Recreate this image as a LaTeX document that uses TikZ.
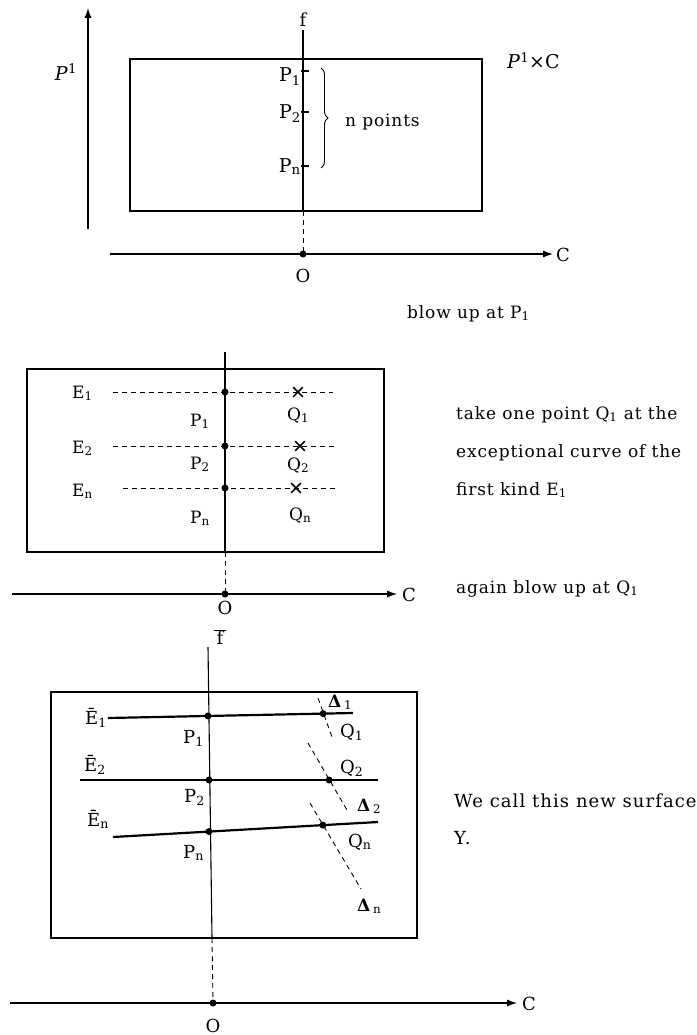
\documentclass[tikz,border=0pt]{standalone}
\usepackage{fontspec}
\setmainfont{DejaVu Serif}
\newfontfamily\spfont[LetterSpace=5]{DejaVu Serif}
\newfontfamily\spwfont[LetterSpace=6]{DejaVu Serif}
\usetikzlibrary{arrows.meta,calc,shapes.misc,decorations.pathreplacing}
\begin{document}
\begin{tikzpicture}[x=1pt,y=-1pt,
  ln/.style={line width=1.1pt},
  thk/.style={line width=2.2pt},
  dsh/.style={line width=0.9pt,dash pattern=on 5pt off 4pt},
  axisline/.style={line width=1.1pt,-{Latex[length=10pt,width=7pt]}},
  pdot/.style={circle,fill=black,inner sep=0pt,minimum size=7pt},
  xmark/.style={cross out,draw=black,line width=1.6pt,inner sep=0pt,minimum size=8pt},
  lab/.style={inner sep=0pt,anchor=base west,font=\fontsize{18}{20}\selectfont},
  labt/.style={inner sep=0pt,anchor=base east,font=\fontsize{19}{20}\selectfont},
  labm/.style={inner sep=0pt,anchor=base west,font=\fontsize{17}{18}\selectfont},
  txt/.style={inner sep=0pt,anchor=base west,font=\spfont\fontsize{17}{20}\selectfont},
  txtw/.style={inner sep=0pt,anchor=base west,font=\spwfont\fontsize{18}{20}\selectfont},
  dlab/.style={inner sep=0pt,anchor=base west,font=\bfseries\fontsize{17}{20}\selectfont},
  single/.style={inner sep=0pt,font=\fontsize{18}{20}\selectfont},
]
\useasboundingbox (0,0) rectangle (696,1035);

% ================= top panel =================
\coordinate (pa0) at (88,229);
\coordinate (pa1) at (88,8);
\draw[axisline] (pa0) -- (pa1);
\node[single,font=\fontsize{19}{20}\selectfont] (plab) at (66,72) {\textit{P}\textsuperscript{1}};

\coordinate (r1a) at (130,59);
\coordinate (r1b) at (482,211);
\draw[ln] (r1a) rectangle (r1b);

\coordinate (ftop) at (303,30);
\coordinate (fbot) at (303,211);
\coordinate (O1) at (303,254);
\draw[ln] (ftop) -- (fbot);
\draw[dsh] (fbot) -- (O1);
\node[single] (flab) at (303,20) {f};

\coordinate (t1a) at (301,71);  \coordinate (t1b) at (309,71);
\coordinate (t2a) at (301,112); \coordinate (t2b) at (309,112);
\coordinate (t3a) at (301,166); \coordinate (t3b) at (309,166);
\draw[line width=2.6pt] (t1a) -- (t1b);
\draw[line width=2.6pt] (t2a) -- (t2b);
\draw[line width=2.6pt] (t3a) -- (t3b);
\node[labt] (tp1) at (301,82) {P\textsubscript{1}};
\node[labt] (tp2) at (301,119) {P\textsubscript{2}};
\node[labt] (tpn) at (301,172) {P\textsubscript{n}};

\coordinate (bra) at (321,68);
\coordinate (brb) at (321,168);
\draw[line width=0.9pt,decorate,decoration={brace,amplitude=7pt}] (bra) -- (brb);
\node[txt] (npts) at (345,127) {n points};

\node[inner sep=0pt,anchor=base west,font=\fontsize{19}{20}\selectfont] (pxc) at (507,69) {\textit{P}\textsuperscript{1}×C};

\coordinate (c1s) at (110,254);
\coordinate (c1e) at (553,254);
\draw[axisline] (c1s) -- (c1e);
\node[pdot] (o1dot) at (O1) {};
\node[single,anchor=west] (c1lab) at (556,255) {C};
\node[single] (o1lab) at (303,276) {O};

\node[txt] (blow1) at (407,318) {blow up at P\textsubscript{1}};

% ================= middle panel =================
\coordinate (r2a) at (27,369);
\coordinate (r2b) at (384,552);
\draw[ln] (r2a) rectangle (r2b);

\coordinate (mtop) at (225,352);
\coordinate (mbot) at (225,552);
\coordinate (O2) at (225,594);
\draw[ln] (mtop) -- (mbot);
\draw[dsh] (mbot) -- (O2);

\coordinate (e1a) at (113,392); \coordinate (e1b) at (333,392);
\coordinate (e2a) at (113,446); \coordinate (e2b) at (334,446);
\coordinate (e3a) at (123,488); \coordinate (e3b) at (337,488);
\draw[dsh] (e1a) -- (e1b);
\draw[dsh] (e2a) -- (e2b);
\draw[dsh] (e3a) -- (e3b);
\node[pdot] (mp1) at (225,392) {};
\node[pdot] (mp2) at (225,446) {};
\node[pdot] (mp3) at (225,488) {};
\node[xmark] (mq1) at (298,392) {};
\node[xmark] (mq2) at (300,446) {};
\node[xmark] (mq3) at (296,488) {};

\node[labm] (me1) at (72,398) {E\textsubscript{1}};
\node[labm] (me2) at (72,453) {E\textsubscript{2}};
\node[labm] (me3) at (72,496) {E\textsubscript{n}};
\node[labm] (mpl1) at (190,426) {P\textsubscript{1}};
\node[labm] (mpl2) at (190,469) {P\textsubscript{2}};
\node[labm] (mpl3) at (190,523) {P\textsubscript{n}};
\node[labm] (mql1) at (287,420) {Q\textsubscript{1}};
\node[labm] (mql2) at (287,470) {Q\textsubscript{2}};
\node[labm] (mql3) at (289,520) {Q\textsubscript{n}};

\coordinate (c2s) at (12,594);
\coordinate (c2e) at (397,594);
\draw[axisline] (c2s) -- (c2e);
\node[pdot] (o2dot) at (O2) {};
\node[single,anchor=west] (c2lab) at (402,595) {C};
\node[single] (o2lab) at (225,608) {O};

\node[txt] (tx1) at (456,419) {take one point Q\textsubscript{1} at the};
\node[txt] (tx2) at (456,457) {exceptional curve of the};
\node[txt] (tx3) at (456,495) {first kind E\textsubscript{1}};
\node[txt] (tx4) at (456,593) {again blow up at Q\textsubscript{1}};

% ================= bottom panel =================
\coordinate (r3a) at (51,692);
\coordinate (r3b) at (417,938);
\draw[ln] (r3a) rectangle (r3b);

\coordinate (btop) at (208,647);
\coordinate (bbot) at (212,938);
\coordinate (O3) at (213,1003);
\draw[ln] (btop) -- (bbot);
\draw[dsh] (bbot) -- (O3);
\node[single] (fblab) at (220,637) {\(\overline{\mbox{\,f\,}}\)};

\coordinate (be1a) at (108,718); \coordinate (be1b) at (353,713);
\coordinate (be2a) at (80,780);  \coordinate (be2b) at (378,780);
\coordinate (be3a) at (113,837); \coordinate (be3b) at (378,822);
\draw[thk] (be1a) -- (be1b);
\draw[thk] (be2a) -- (be2b);
\draw[thk] (be3a) -- (be3b);

\coordinate (d1a) at (318,698); \coordinate (d1b) at (332,737);
\coordinate (d2a) at (308,743); \coordinate (d2b) at (347,810);
\coordinate (d3a) at (310,803); \coordinate (d3b) at (361,889);
\draw[dsh] (d1a) -- (d1b);
\draw[dsh] (d2a) -- (d2b);
\draw[dsh] (d3a) -- (d3b);

\node[pdot] (bp1) at ($(be1a)!0.408!(be1b)$) {};
\node[pdot] (bq1) at ($(be1a)!0.878!(be1b)$) {};
\node[pdot] (bp2) at ($(be2a)!0.433!(be2b)$) {};
\node[pdot] (bq2) at ($(be2a)!0.836!(be2b)$) {};
\node[pdot] (bp3) at ($(be3a)!0.362!(be3b)$) {};
\node[pdot] (bq3) at ($(be3a)!0.792!(be3b)$) {};

\node[lab] (bel1) at (85,724) {Ē\textsubscript{1}};
\node[lab] (bel2) at (84,771) {Ē\textsubscript{2}};
\node[lab] (bel3) at (87,826) {Ē\textsubscript{n}};
\node[lab] (bpl1) at (183,743) {P\textsubscript{1}};
\node[lab] (bpl2) at (184,802) {P\textsubscript{2}};
\node[lab] (bpl3) at (183,858) {P\textsubscript{n}};
\node[lab] (bql1) at (340,737) {Q\textsubscript{1}};
\node[lab] (bql2) at (340,773) {Q\textsubscript{2}};
\node[lab] (bql3) at (348,847) {Q\textsubscript{n}};
\node[dlab] (dl1) at (328,707) {Δ\,\textsubscript{\mdseries 1}};
\node[dlab] (dl2) at (357,811) {Δ\,\textsubscript{\mdseries 2}};
\node[dlab] (dl3) at (357,911) {Δ\,\textsubscript{\mdseries n}};

\node[txtw] (tx5) at (454,807) {We call this new surface};
\node[txtw] (tx6) at (454,844) {Y.};

\coordinate (c3s) at (10,1003);
\coordinate (c3e) at (517,1003);
\draw[axisline] (c3s) -- (c3e);
\node[pdot] (o3dot) at (O3) {};
\node[single,anchor=west] (c3lab) at (522,1004) {C};
\node[single,anchor=base] (o3lab) at (213,1032) {O};
\end{tikzpicture}
\end{document}
